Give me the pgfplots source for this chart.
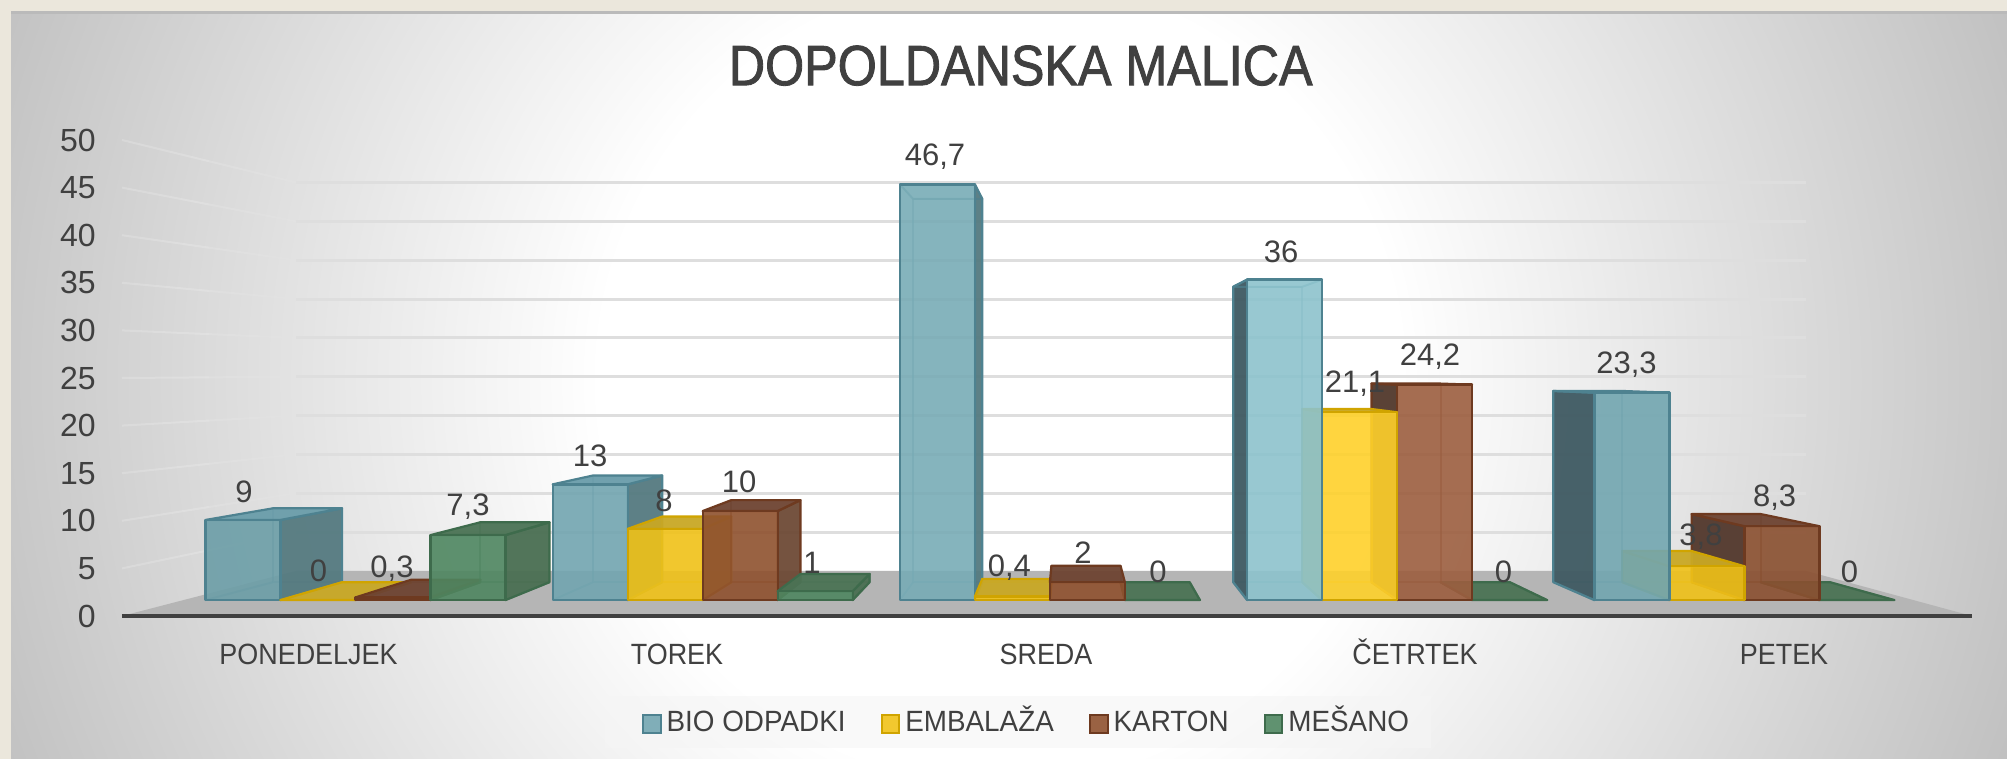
\documentclass[border=0pt]{standalone}
\usepackage{fontspec}
\setmainfont{Liberation Sans}
\newfontfamily\ttlfont[FakeStretch=0.885,FakeBold=1.5]{Liberation Sans}
\newfontfamily\labfont[FakeStretch=0.92]{Liberation Sans}
\newfontfamily\legfont[FakeStretch=0.95]{Liberation Sans}
\usepackage{pgfplots}
\pgfplotsset{compat=1.18}
\definecolor{txt}{HTML}{404040}
\definecolor{sideA}{HTML}{557A80}\definecolor{sideLA}{HTML}{3F5A62}\definecolor{topA}{HTML}{6A9DAA}\definecolor{edgeA}{HTML}{4E8290}
\definecolor{sideB}{HTML}{C9A825}\definecolor{sideLB}{HTML}{C9A825}\definecolor{topB}{HTML}{C9A825}\definecolor{edgeB}{HTML}{D0A400}
\definecolor{sideC}{HTML}{6E4A36}\definecolor{sideLC}{HTML}{52382C}\definecolor{topC}{HTML}{6E4432}\definecolor{edgeC}{HTML}{6E3A20}
\definecolor{sideD}{HTML}{4A6F52}\definecolor{sideLD}{HTML}{4A6F52}\definecolor{topD}{HTML}{4B7355}\definecolor{edgeD}{HTML}{3E6B4C}
\definecolor{Aa}{HTML}{6C9EA7}\definecolor{Ab}{HTML}{72A5B0}\definecolor{Ac}{HTML}{78ACB6}\definecolor{Ad}{HTML}{8DC3CD}\definecolor{Ae}{HTML}{72A6B0}
\definecolor{Ba}{HTML}{E6BA14}\definecolor{Bb}{HTML}{F0C218}\definecolor{Bd}{HTML}{FFD12B}
\definecolor{Ca}{HTML}{8A5030}\definecolor{Cb}{HTML}{8F512E}\definecolor{Cd}{HTML}{9C5E3F}
\definecolor{Da}{HTML}{4E8660}
\pgfdeclareradialshading{bgshade}{\pgfpoint{0bp}{0bp}}{%
  color(0bp)=(white); color(9.1bp)=(white); color(24.8bp)=(black!25); color(50bp)=(black!35)}
% one bar in perspective: group, place in group, value, series, colour of the front face
\newcommand\BAR[5]{%
  \pgfmathsetmacro\xa{205.5+347.2*#1+75*#2}%
  \pgfmathsetmacro\xb{\xa+75}%
  \pgfmathsetmacro\xc{1069+(\xa-1069)*0.92193}%
  \pgfmathsetmacro\xd{1069+(\xb-1069)*0.92193}%
  \pgfmathsetmacro\yfb{1.6728}%
  \pgfmathsetmacro\yft{1.6728+0.935*#3}%
  \pgfmathsetmacro\ybb{3.5514}%
  \pgfmathsetmacro\ybt{3.5514+0.862*#3}%
  % hidden edges
  \addplot[forget plot,draw=edge#4,draw opacity=0.5,line width=1pt,line join=round] coordinates {(\xc,\ybb)(\xd,\ybb)(\xd,\ybt)(\xc,\ybt)} --cycle;
  \addplot[forget plot,draw=edge#4,draw opacity=0.5,line width=1pt] coordinates {(\xa,\yfb)(\xc,\ybb)};
  \addplot[forget plot,draw=edge#4,draw opacity=0.5,line width=1pt] coordinates {(\xb,\yfb)(\xd,\ybb)};
  % visible side
  \ifdim\xb pt<1069pt
    \addplot[forget plot,fill=side#4,fill opacity=0.95,draw=edge#4,line width=1.1pt,line join=round] coordinates {(\xb,\yfb)(\xd,\ybb)(\xd,\ybt)(\xb,\yft)} --cycle;
  \fi
  \ifdim\xa pt>1069pt
    \addplot[forget plot,fill=sideL#4,fill opacity=0.95,draw=edge#4,line width=1.1pt,line join=round] coordinates {(\xa,\yfb)(\xc,\ybb)(\xc,\ybt)(\xa,\yft)} --cycle;
  \fi
  % top
  \ifdim#3pt<25pt
    \addplot[forget plot,fill=top#4,fill opacity=0.95,draw=edge#4,line width=1.1pt,line join=round] coordinates {(\xa,\yft)(\xb,\yft)(\xd,\ybt)(\xc,\ybt)} --cycle;
  \else
    \addplot[forget plot,draw=edge#4,draw opacity=0.7,line width=1pt,line join=round] coordinates {(\xa,\yft)(\xb,\yft)(\xd,\ybt)(\xc,\ybt)} --cycle;
  \fi
  % front
  \addplot[forget plot,fill=#5,fill opacity=0.9,draw=edge#4,line width=1.2pt,line join=round] coordinates {(\xa,\yfb)(\xb,\yfb)(\xb,\yft)(\xa,\yft)} --cycle;
}
\newcommand\GRID[1]{%
  \pgfmathsetmacro\ya{#1}%
  \pgfmathsetmacro\yb{#1+0.5*(4.735-0.184*#1)}%
  \pgfmathsetmacro\yc{4.735+0.816*#1}%
  \addplot[forget plot,draw=white,draw opacity=0.18,line width=1pt] coordinates {(122,\ya)(209,\yb)};
  \addplot[forget plot,draw=black!11,draw opacity=0.5,line width=1pt] coordinates {(209,\yb)(296,\yc)};
  \addplot[forget plot,draw=black!13,line width=1.5pt] coordinates {(296,\yc)(1806,\yc)};
}
\begin{document}
\begin{tikzpicture}
\begin{scope}[x=0.5pt,y=0.5pt]
  \path[use as bounding box] (0,0) rectangle (2007,759);
  \fill[color={rgb,255:red,235;green,231;blue,220}] (0,0) rectangle (2007,759);
  \begin{scope}
    \clip (11,0) rectangle (2007,747);
    \path[shading=bgshade] (1000-1100,380-1100) rectangle (1000+1100,380+1100);
  \end{scope}
  \fill[black!27] (11,745) rectangle (2007,748);
  \fill[color={rgb,255:red,245;green,245;blue,245},opacity=0.6] (605,11) rectangle (1431,63);
\end{scope}
\begin{axis}[
  at={(61pt,71.5pt)},anchor=south west,scale only axis,
  width=925pt,height=238pt,
  xmin=122,xmax=1972,ymin=0,ymax=50,
  clip=false,
  axis line style={draw=none},
  major tick length=0pt,
  xtick={308.5,677,1046,1415,1784},
  xticklabels={PONEDELJEK,TOREK,SREDA,ČETRTEK,PETEK},
  ytick={0,5,...,50},
  /pgf/number format/assume math mode=true,
  xticklabel style={font=\labfont\fontsize{14.65pt}{16pt}\selectfont,text=txt,anchor=base,inner sep=0pt,yshift=-24.2pt},
  yticklabel style={font=\fontsize{16pt}{18pt}\selectfont,text=txt,anchor=east,inner sep=0pt,xshift=-13pt},
  title={DOPOLDANSKA MALICA},
  title style={at={(0.4858,1.131)},anchor=center,inner sep=0pt,yshift=0pt,font=\ttlfont\fontsize{28.4pt}{30pt}\selectfont,text=txt},
  legend columns=4,
  legend cell align=left,
  legend image code/.code={\draw[#1,line width=1pt] (0pt,-9.2pt) rectangle (8.8pt,-0.4pt);},
  legend style={at={(0.4884,-0.2227)},anchor=center,draw=none,fill=none,font=\legfont\fontsize{14.65pt}{16pt}\selectfont,text=txt,
    nodes={inner sep=0pt,text height=10.5pt,text depth=0pt,yshift=-3.25pt},
    /tikz/every odd column/.style={column sep=2.5pt},
    /tikz/every even column/.style={column sep=17.6pt}},
]
% floor
\addplot[forget plot,fill=black!29,draw=none] coordinates {(122,0)(1972,0)(1806,4.735)(296,4.735)} --cycle;
\GRID{5}\GRID{10}\GRID{15}\GRID{20}\GRID{25}\GRID{30}\GRID{35}\GRID{40}\GRID{45}\GRID{50}
\addplot[forget plot,draw=txt,line width=2pt] coordinates {(122,0)(1972,0)};
% PONEDELJEK
\BAR{0}{0}{9}{A}{Aa}
\BAR{0}{1}{0}{B}{Ba}
\BAR{0}{2}{0.3}{C}{Ca}
\BAR{0}{3}{7.3}{D}{Da}
% TOREK
\BAR{1}{0}{13}{A}{Ab}
\BAR{1}{1}{8}{B}{Bb}
\BAR{1}{2}{10}{C}{Cb}
\BAR{1}{3}{1}{D}{Da}
% SREDA
\BAR{2}{0}{46.7}{A}{Ac}
\BAR{2}{1}{0.4}{B}{Bb}
\BAR{2}{3}{0}{D}{Da}
\BAR{2}{2}{2}{C}{Cb}
% CETRTEK
\BAR{3}{3}{0}{D}{Da}
\BAR{3}{2}{24.2}{C}{Cd}
\BAR{3}{1}{21.1}{B}{Bd}
\BAR{3}{0}{36}{A}{Ad}
% PETEK
\BAR{4}{3}{0}{D}{Da}
\BAR{4}{2}{8.3}{C}{Ca}
\BAR{4}{1}{3.8}{B}{Bb}
\BAR{4}{0}{23.3}{A}{Ae}
% data labels
\addplot[forget plot,draw=none,mark=none,point meta=explicit symbolic,
  nodes near coords,
  nodes near coords style={anchor=center,inner sep=0pt,font=\fontsize{15.5pt}{17pt}\selectfont,text=txt}]
  table[x=x,y=y,meta=lab] {
x y lab
244 13.03 9
318.6 4.73 0
392 4.98 0,3
468 11.45 7,3
590 16.81 13
664 12.11 8
739 14.08 10
812 5.62 1
935 48.25 46,7
1009.3 5.04 0,4
1083 6.62 2
1158 4.65 0
1281 38.24 36
1355 24.42 21,1
1430 27.26 24,2
1503.5 4.68 0
1626.5 26.37 23,3
1701 8.30 3,8
1774.6 12.39 8,3
1849.5 4.68 0
};
\addlegendimage{fill=Ab!90!white,draw=edgeA}
\addlegendentry{BIO ODPADKI}
\addlegendimage{fill=Bb!90!white,draw=edgeB}
\addlegendentry{EMBALAŽA}
\addlegendimage{fill=Cb!90!white,draw=edgeC}
\addlegendentry{KARTON}
\addlegendimage{fill=Da!90!white,draw=edgeD}
\addlegendentry{MEŠANO}
\end{axis}
\end{tikzpicture}
\end{document}
